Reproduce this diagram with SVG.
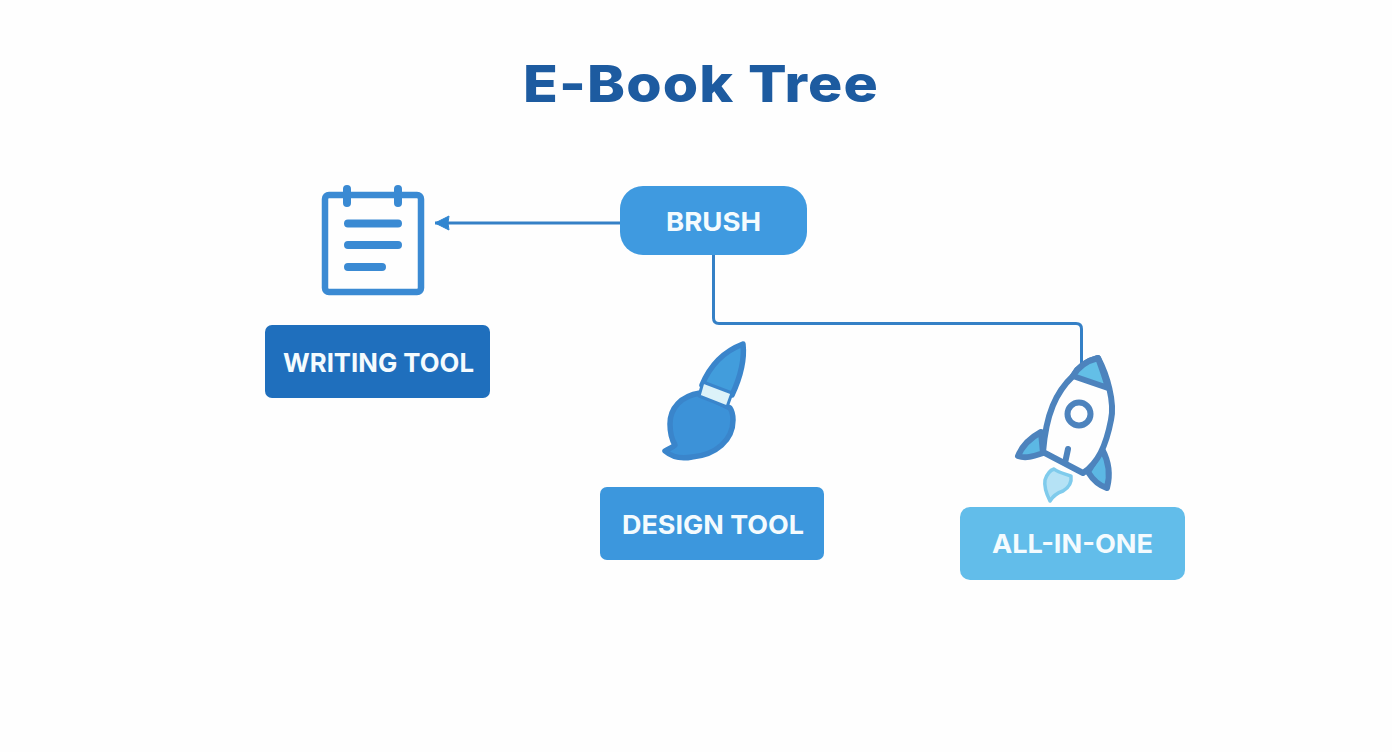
<svg xmlns="http://www.w3.org/2000/svg" width="1392" height="752" viewBox="0 0 1392 752">
<defs>
<style>
.t{font-family:"Inter","Open Sans","Liberation Sans",sans-serif;font-weight:700;font-size:26px;fill:#f4fbfe}
.title{font-family:"Inter","Liberation Sans",sans-serif;font-weight:800;font-size:51px;fill:#1d5ba0}
.conn{fill:none;stroke:#3580c6;stroke-width:3;stroke-linejoin:round}
.i{stroke-linecap:round;stroke-linejoin:round}
</style>
<marker id="ah" markerUnits="userSpaceOnUse" markerWidth="18" markerHeight="18" refX="15" refY="8" orient="auto">
<path d="M15 8 L1 1 Q3 8 1 15 Z" fill="#2f85d0" stroke="#2f85d0" stroke-width="1" stroke-linejoin="round"/>
</marker>
</defs>
<rect width="1392" height="752" fill="#fefefe"/>
<g id="title"><text class="title" x="523" y="102" textLength="356" lengthAdjust="spacingAndGlyphs" letter-spacing="1">E-Book Tree</text></g>
<g id="connectors">
<path class="conn" d="M620 223 H435" marker-end="url(#ah)"/>
<path class="conn" d="M713.5 255 V318 Q713.5 323.500 719 323.500 H1076 Q1081.500 323.500 1081.500 329 V364"/>
</g>
<g id="brush-node">
<rect x="620" y="186" width="187" height="69" rx="23" fill="#3f9ae0"/>
<text class="t" x="666" y="231" textLength="95" lengthAdjust="spacingAndGlyphs">BRUSH</text>
</g>
<g id="writing-icon" class="i" fill="none" stroke="#3a8ad3">
<rect x="325" y="195" width="96" height="97" rx="4" stroke-width="6.500" fill="#fefefe"/>
<path d="M347 189 V203 M398 189 V203" stroke-width="8"/>
<path d="M348 223.500 H398 M348 245 H398 M348 267 H382" stroke-width="8"/>
</g>
<g id="writing-node">
<rect x="265" y="325" width="225" height="73" rx="7" fill="#1f6fbd"/>
<text class="t" x="283" y="371.500" textLength="191" lengthAdjust="spacingAndGlyphs">WRITING TOOL</text>
</g>
<g id="design-icon" class="i" stroke="#3a85cb" stroke-width="5.500">
<path d="M743 344 C722 352 709 368 702 385 L732 395 C740 378 745 362 743 344 Z" fill="#429ddc"/>
<path d="M700 393 C681 396 670 408 670 424 C670 433 672 440 675 445 C672 448 668 449 665 451 C672 457 682 459 692 457 C716 455 733 440 733 420 C733 415 732 411 730 408 Z" fill="#3c92d8"/>
<path d="M703 382 L732 393 L727 407 L699 396 Z" fill="#dcf2f9" stroke-width="3"/>
</g>
<g id="design-node">
<rect x="600" y="487" width="224" height="73" rx="7" fill="#3c97dd"/>
<text class="t" x="622" y="533.500" textLength="182" lengthAdjust="spacingAndGlyphs">DESIGN TOOL</text>
</g>
<g id="rocket-icon" class="i" stroke="#4d83bd" stroke-width="6">
<path d="M1050 501 C1047 495 1044 486 1045 480 C1047 474 1051 470 1054 469 C1059 473 1066 474 1071 476 C1072 483 1068 488 1063 491 C1057 493 1053 496 1050 501 Z" fill="#b5e2f5" stroke="#7fcbec" stroke-width="3.500"/>
<path d="M1041 432 C1030 438 1022 446 1018 456 C1026 459 1034 456 1043 453 Z" fill="#5cb8e4"/>
<path d="M1102 449 C1108 460 1111 473 1107 488 C1100 486 1093 480 1088 472 Z" fill="#5cb8e4"/>
<path d="M1098 358 C1086 361 1078 367 1073 376 C1056 392 1046 414 1043 452 L1083 473 C1098 463 1106 446 1111 420 C1115 402 1107 375 1098 358 Z" fill="#fefefe"/>
<path d="M1098 358 C1086 361 1078 367 1073 376 L1108 388 C1105 377 1101 366 1098 358 Z" fill="#63bfe7"/>
<circle cx="1079" cy="414" r="11.500" fill="#fefefe"/>
<path d="M1068 449 L1065 463" fill="none"/>
</g>
<g id="allinone-node">
<rect x="960" y="507" width="225" height="73" rx="10" fill="#62bdea"/>
<text class="t" x="992" y="553" textLength="161" lengthAdjust="spacingAndGlyphs">ALL-IN-ONE</text>
</g>
</svg>
